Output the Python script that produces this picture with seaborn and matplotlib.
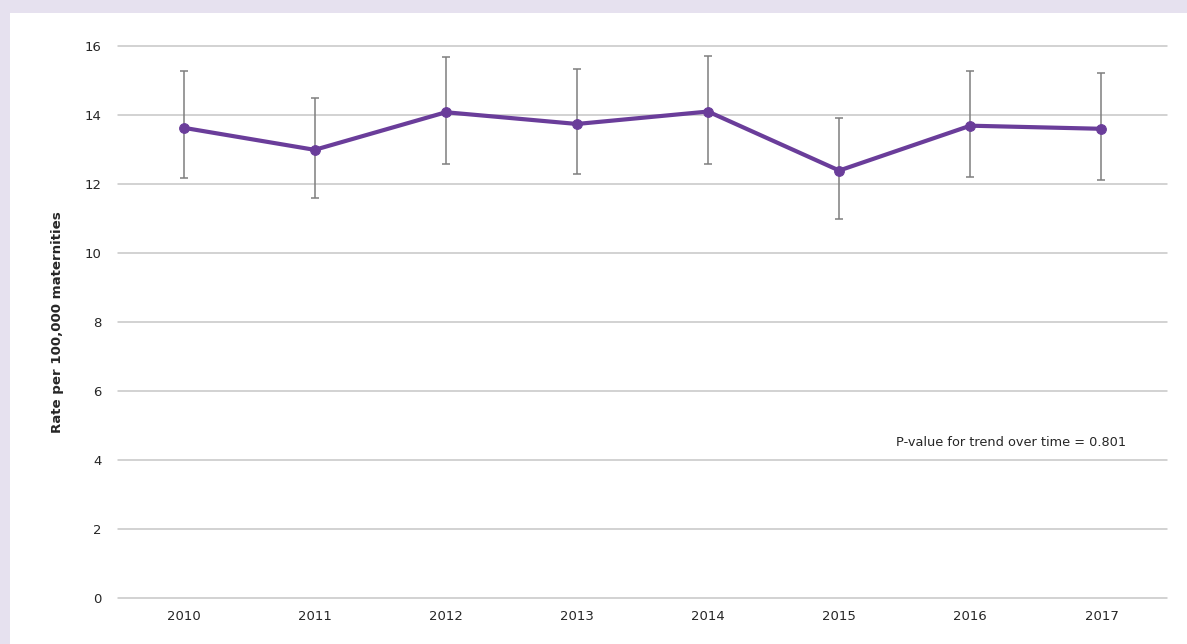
import numpy as np
import pandas as pd
import matplotlib
matplotlib.use('Agg')
import matplotlib.pyplot as plt
import seaborn as sns
from matplotlib.patches import Rectangle

# Data
years = [2010, 2011, 2012, 2013, 2014, 2015, 2016, 2017]
rate = [13.63, 12.99, 14.08, 13.74, 14.10, 12.39, 13.69, 13.60]
ci_lower = [12.17, 11.60, 12.58, 12.28, 12.59, 10.99, 12.21, 12.13]
ci_upper = [15.27, 14.50, 15.67, 15.32, 15.70, 13.90, 15.27, 15.21]
y_ticks = [0, 2, 4, 6, 8, 10, 12, 14, 16]
p_text = 'P-value for trend over time = 0.801'

df = pd.DataFrame({'year': years, 'rate': rate, 'lo': ci_lower, 'hi': ci_upper})

sns.set_style('white')
plt.rcParams['font.family'] = ['DejaVu Sans']

purple = '#6a3d9a'
fig = plt.figure(figsize=(11.87, 6.44), dpi=100)
fig.patch.set_facecolor('#e6e1ef')
# white panel inside the lavender border
fig.patches.append(Rectangle((10 / 1187, 0), 1, 1 - 13 / 644, transform=fig.transFigure,
                             facecolor='white', edgecolor='none', zorder=-5))

ax = fig.add_axes([118 / 1187, 46 / 644, (1167 - 118) / 1187, (598 - 46) / 644])
ax.set_facecolor('none')

ax.errorbar(df['year'], df['rate'],
            yerr=[df['rate'] - df['lo'], df['hi'] - df['rate']],
            fmt='none', ecolor='#7f7f7f', elinewidth=1.1, capsize=3, capthick=1.1, zorder=2)
sns.lineplot(data=df, x='year', y='rate', color=purple, linewidth=3, marker='o',
             markersize=7, markeredgecolor=purple, ax=ax, zorder=3)

ax.set_xlim(2009.5, 2017.5)
ax.set_ylim(0, 16)
ax.set_yticks(y_ticks)
ax.set_xticks(years)
ax.set_xticklabels([str(y) for y in years])
ax.grid(axis='y', color='#c6c6c6', linewidth=1.1)
ax.grid(axis='x', visible=False)
ax.set_axisbelow(True)
for gl in ax.get_ygridlines():
    gl.set_clip_on(False)
for s in ax.spines.values():
    s.set_visible(False)
ax.tick_params(axis='both', length=0, labelsize=9.5, colors='#262626')
ax.tick_params(axis='x', pad=9)
ax.tick_params(axis='y', pad=12)
ax.set_xlabel('')
ax.set_ylabel('Rate per 100,000 maternities', fontsize=9.6, fontweight='bold',
              color='#262626', labelpad=15)

ax.text(2017.19, 4.5, p_text, ha='right', va='center', fontsize=9.3, color='#262626')

fig.savefig('out.png', dpi=100, facecolor=fig.get_facecolor())
